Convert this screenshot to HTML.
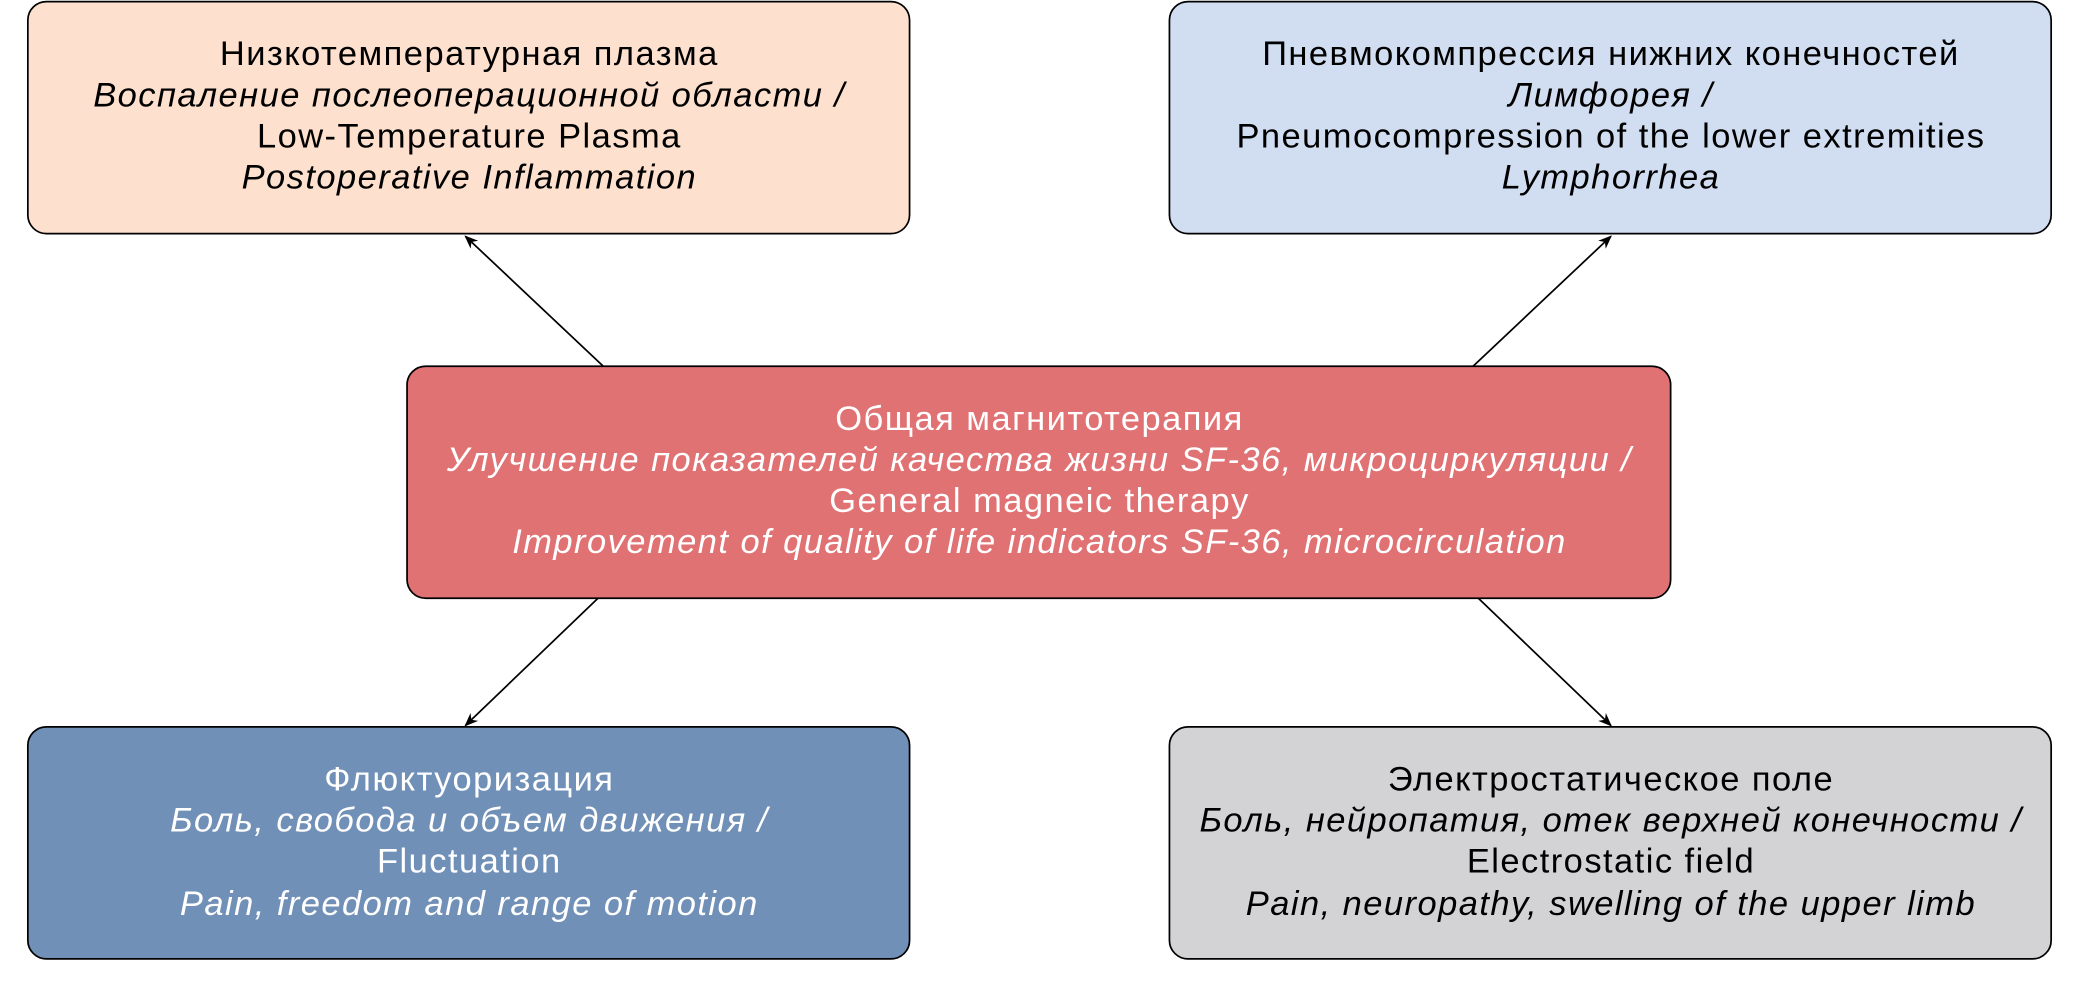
<!DOCTYPE html>
<html><head><meta charset="utf-8"><style>
html,body{margin:0;padding:0;background:#fff;}
svg{display:block;}
text{font-family:"Liberation Sans",sans-serif;font-size:26px;letter-spacing:1.1px;text-anchor:middle;}
.i{font-style:italic;}
</style></head><body>
<svg width="2079" height="983" viewBox="0 0 1568 741" xmlns="http://www.w3.org/2000/svg">
<defs><marker id="a" viewBox="0 0 10 10" refX="9" refY="5" markerWidth="8" markerHeight="8" orient="auto"><path d="M0,1 L10,5 L0,9 L3,5 Z" fill="#000"/></marker></defs>
<g stroke="#000" stroke-width="1.3" fill="none">
<line x1="455" y1="276" x2="351" y2="178" marker-end="url(#a)"/>
<line x1="1111" y1="276" x2="1215" y2="178" marker-end="url(#a)"/>
<line x1="451" y1="451" x2="351" y2="547" marker-end="url(#a)"/>
<line x1="1115" y1="451" x2="1215" y2="547" marker-end="url(#a)"/>
</g>
<g stroke="#000" stroke-width="1.3">
<rect x="21" y="1" width="665" height="175" rx="14" fill="#fde0cd"/>
<rect x="882" y="1" width="665" height="175" rx="14" fill="#d1ddf0"/>
<rect x="307" y="276" width="953" height="175" rx="14" fill="#e07274"/>
<rect x="21" y="548" width="665" height="175" rx="14" fill="#7190b8"/>
<rect x="882" y="548" width="665" height="175" rx="14" fill="#d3d3d6"/>
</g>
<g fill="#000">
<text x="354" y="49">Низкотемпературная плазма</text>
<text x="354" y="80" class="i">Воспаление послеоперационной области /</text>
<text x="354" y="111">Low-Temperature Plasma</text>
<text x="354" y="142" class="i">Postoperative Inflammation</text>
<text x="1215" y="49">Пневмокомпрессия нижних конечностей</text>
<text x="1215" y="80" class="i">Лимфорея /</text>
<text x="1215" y="111">Pneumocompression of the lower extremities</text>
<text x="1215" y="142" class="i">Lymphorrhea</text>
<text x="1215" y="596">Электростатическое поле</text>
<text x="1215" y="627" class="i">Боль, нейропатия, отек верхней конечности /</text>
<text x="1215" y="658">Electrostatic field</text>
<text x="1215" y="690" class="i">Pain, neuropathy, swelling of the upper limb</text>
</g>
<g fill="#fff">
<text x="784" y="324">Общая магнитотерапия</text>
<text x="784" y="355" class="i">Улучшение показателей качества жизни SF-36, микроциркуляции /</text>
<text x="784" y="386">General magneic therapy</text>
<text x="784" y="417" class="i">Improvement of quality of life indicators SF-36, microcirculation</text>
<text x="354" y="596">Флюктуоризация</text>
<text x="354" y="627" class="i">Боль, свобода и объем движения /</text>
<text x="354" y="658">Fluctuation</text>
<text x="354" y="690" class="i">Pain, freedom and range of motion</text>
</g>
</svg>
</body></html>
